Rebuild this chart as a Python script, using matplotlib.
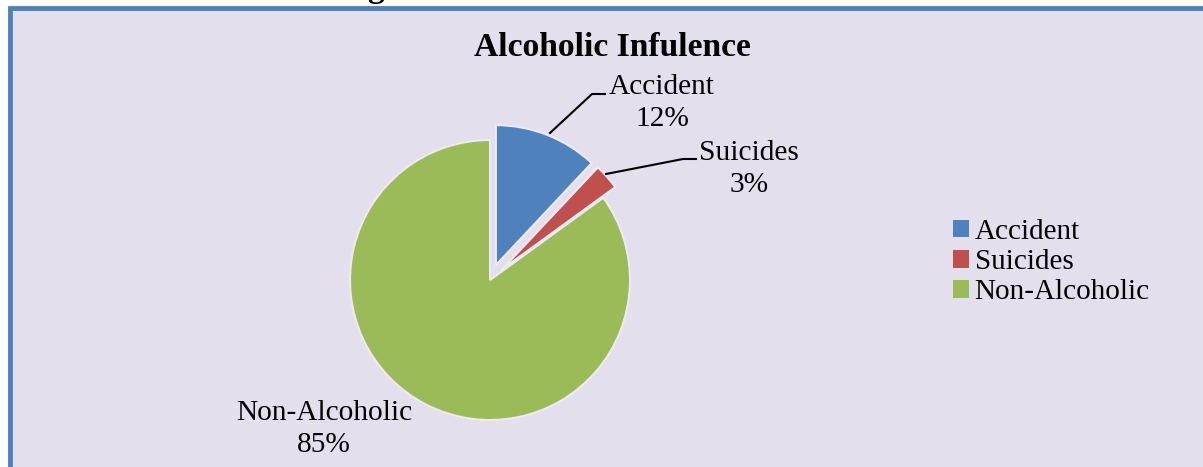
import matplotlib
matplotlib.use("Agg")
import matplotlib.pyplot as plt
from matplotlib.patches import Rectangle

categories = ["Accident", "Suicides", "Non-Alcoholic"]
shares = [12, 3, 85]
colors = ["#4F81BD", "#C0504D", "#9BBB59"]
title = "Alcoholic Infulence"

W, H = 1203, 467
BG = "#E4DFEC"
fig = plt.figure(figsize=(W / 100, H / 100), dpi=100)
fig.patch.set_facecolor("white")
ax = fig.add_axes([0, 0, 1, 1])

def Y(y):
    return H - y

serif = ["Liberation Serif", "DejaVu Serif"]

# chart area with a blue frame
ax.add_patch(Rectangle((10, -5), W + 10, Y(7.5) + 5, facecolor=BG,
                       edgecolor="#4F81BD", linewidth=3.5, zorder=0))

# heading text of the page above, cut off by the edge
ax.text(376, Y(-3), "g", fontsize=24, fontweight="bold", family=serif,
        ha="center", va="baseline", zorder=1)

wedges, _ = ax.pie(shares, colors=colors, startangle=90, counterclock=False,
                   explode=[16, 16, 0], center=(490, Y(280)), radius=140,
                   frame=True, wedgeprops=dict(edgecolor="#EEEAF3", linewidth=1.5))
ax.set_xlim(0, W)
ax.set_ylim(0, H)
ax.set_aspect("equal")
ax.axis("off")

ax.text(612, Y(48), title, fontsize=24.2, fontweight="bold", family=serif,
        ha="center", va="center")

# data labels with leader lines
lab_kw = dict(fontsize=21.2, family=serif, ha="center", va="center",
              linespacing=1.3)
ax.text(662, Y(103), f"{categories[0]}\n{shares[0]}%", **lab_kw)
ax.plot([550, 592, 605], [Y(133), Y(94), Y(94)], color="black", lw=1.5)
ax.text(749, Y(169), f"{categories[1]}\n{shares[1]}%", **lab_kw)
ax.plot([606, 683, 696], [Y(174), Y(159), Y(159)], color="black", lw=1.5)
ax.text(324, Y(429), f"{categories[2]}\n{shares[2]}%", **lab_kw)

handles = [Rectangle((0, 0), 1, 1, facecolor=c, edgecolor="none") for c in colors]
leg = ax.legend(handles, categories, loc="upper left",
                bbox_to_anchor=(941 / W, 1 - 207 / H), frameon=False,
                prop=dict(family=serif, size=21), handlelength=0.55,
                handleheight=0.55, handletextpad=0.2, labelspacing=0.15,
                borderaxespad=0)

fig.savefig("out.png", dpi=100, facecolor=fig.get_facecolor())
